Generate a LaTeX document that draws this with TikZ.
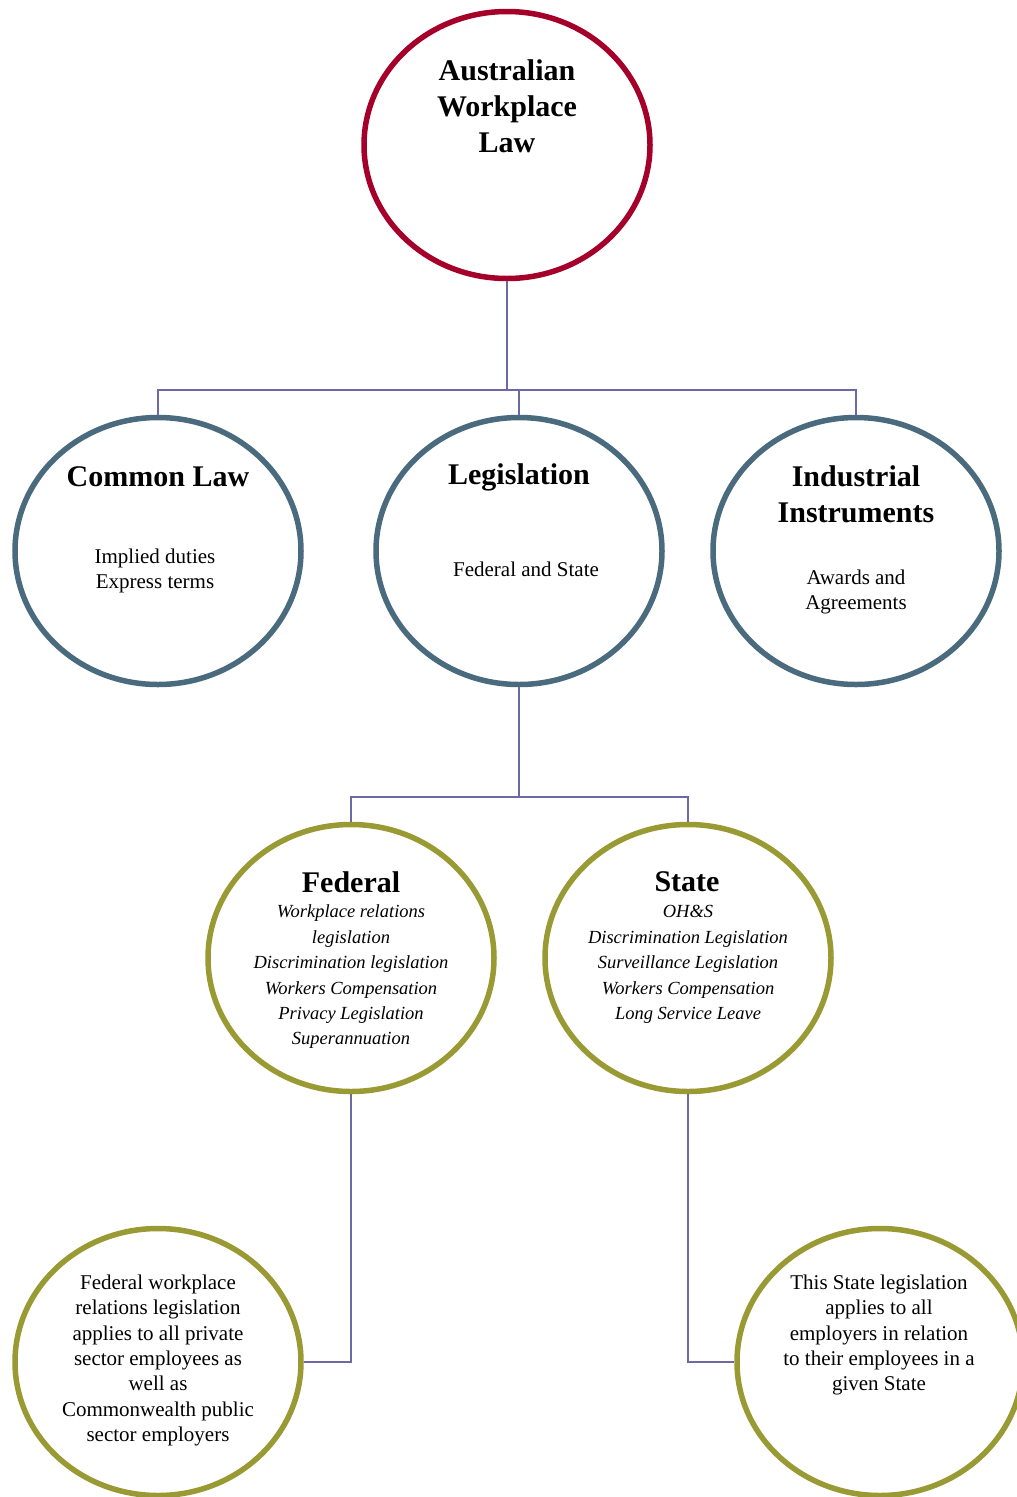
\documentclass[tikz,border=0pt]{standalone}
\usepackage{fontspec}
\setmainfont{Liberation Serif}
\usetikzlibrary{shapes.geometric}
\definecolor{rootred}{HTML}{A5002A}
\definecolor{slate}{HTML}{4A6B7E}
\definecolor{olive}{HTML}{9A9A34}
\definecolor{linkc}{HTML}{6D69A2}
\tikzset{
  bubble/.style={ellipse, draw, line width=5.5pt, minimum width=286pt, minimum height=267pt, inner sep=0pt},
  rootbubble/.style={bubble, draw=rootred},
  midbubble/.style={bubble, draw=slate},
  leafbubble/.style={bubble, draw=olive},
  link/.style={draw=linkc, line width=1.8pt},
  title/.style={align=center, inner sep=0pt, font=\fontsize{30}{36}\selectfont\bfseries},
  body/.style={align=center, inner sep=0pt, font=\fontsize{21}{25.4}\selectfont},
  itbody/.style={align=center, inner sep=0pt, font=\fontsize{18.5}{25.4}\selectfont\itshape},
}
\begin{document}
\begin{tikzpicture}[x=1pt, y=-1pt]
\clip (0,0) rectangle (1017,1497);
\fill[white] (0,0) rectangle (1017,1497);

% bubbles
\node[rootbubble] (root) at (507,145) {};
\node[midbubble] (common) at (158,551) {};
\node[midbubble] (legis) at (519,551) {};
\node[midbubble] (indus) at (856,551) {};
\node[leafbubble] (fed) at (351,958) {};
\node[leafbubble] (state) at (688,958) {};
\node[leafbubble] (fednote) at (158,1362) {};
\node[leafbubble] (statenote) at (880,1362) {};

% connectors
\coordinate (bus1) at (507,390);
\coordinate (bus2) at (519,797);
\draw[link] (root.south) -- (root.south |- bus1);
\draw[link] (common.north) -- (common.north |- bus1) -- (indus.north |- bus1) -- (indus.north);
\draw[link] (legis.north) -- (legis.north |- bus1);
\draw[link] (legis.south) -- (legis.south |- bus2);
\draw[link] (fed.north) -- (fed.north |- bus2) -- (state.north |- bus2) -- (state.north);
\draw[link] (fed.south) |- (fednote.east);
\draw[link] (state.south) |- (statenote.west);

% texts
\node[title] (t-root) at (507,106) {Australian\\Workplace\\Law};
\node[title] (t-common) at (158,477) {Common Law};
\node[body] (b-common) at (155,571) {Implied duties\\Express terms};
\node[title] (t-legis) at (519,477) {Legislation};
\node[body] (b-legis) at (526,569) {Federal and State};
\node[title] (t-indus) at (856,494) {Industrial\\Instruments};
\node[body] (b-indus) at (856,592) {Awards and\\Agreements};
\node[title] (t-fed) at (351,882) {Federal};
\node[itbody] (b-fed) at (351,977) {Workplace relations\\legislation\\Discrimination legislation\\Workers Compensation\\Privacy Legislation\\Superannuation};
\node[title] (t-state) at (687,882) {State};
\node[itbody] (b-state) at (688,964.5) {OH\&S\\Discrimination Legislation\\Surveillance Legislation\\Workers Compensation\\Long Service Leave};
\node[body] (b-fednote) at (158,1360.5) {Federal workplace\\relations legislation\\applies to all private\\sector employees as\\well as\\Commonwealth public\\sector employers};
\node[body] (b-statenote) at (879,1335) {This State legislation\\applies to all\\employers in relation\\to their employees in a\\given State};
\end{tikzpicture}
\end{document}
